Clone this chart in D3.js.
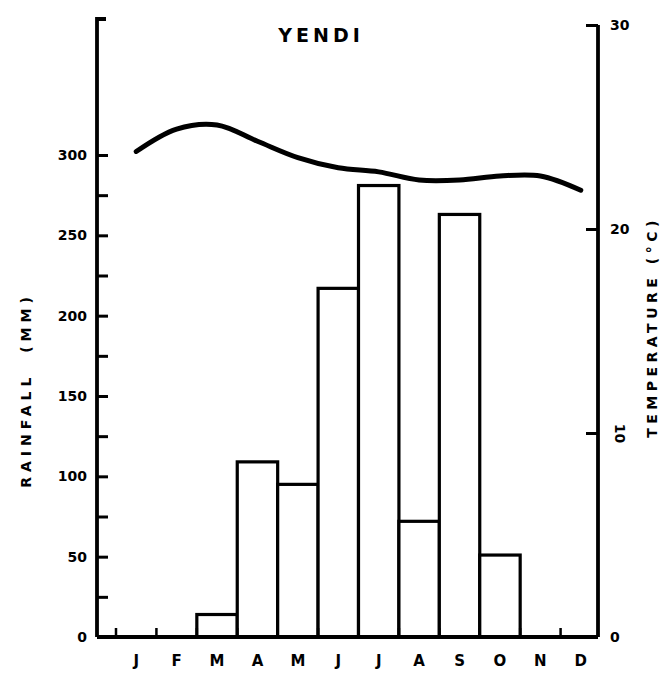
<!DOCTYPE html>
<html>
<head>
<meta charset="utf-8">
<script src="https://cdn.jsdelivr.net/npm/d3@7"></script>
<style>
  html, body { margin: 0; padding: 0; background: #fff; }
  svg { display: block; }
  text { font-family: "DejaVu Sans", sans-serif; font-weight: bold; fill: #000; }
</style>
</head>
<body>
<svg id="chart" width="671" height="674"></svg>
<script>
// ---- data ----
const title = "YENDI";
const months = ["J","F","M","A","M","J","J","A","S","O","N","D"];
const rainfall = [0, 0, 14, 109, 95, 217, 281, 72, 263, 51, 0, 0];          // mm
const temperature = [23.8, 24.9, 25.1, 24.3, 23.5, 23.0, 22.8, 22.4, 22.4, 22.6, 22.6, 21.9]; // °C
const rainTicks = [0,25,50,75,100,125,150,175,200,225,250,275,300];
const rainLabels = [0,50,100,150,200,250,300];
const tempTicks = [0,10,20,30];
const leftTitle = "RAINFALL  (MM)";
const rightTitle = "TEMPERATURE (°C)";

// ---- layout ----
const svg = d3.select("#chart");
const xLeft = 97, xRight = 598, yBase = 637;

const keys = months.map((m, i) => i);
const x = d3.scaleBand().domain(keys).range([116, 601]).padding(0);
const yRain = d3.scaleLinear().domain([0, 300]).range([yBase, 155]);
const yTemp = d3.scaleLinear().domain([0, 30]).range([yBase, 25]);

const ink = "#000";

// bars
svg.append("g").selectAll("rect")
  .data(rainfall.map((v, i) => ({v, i})).filter(d => d.v > 0))
  .join("rect")
  .attr("x", d => x(d.i))
  .attr("y", d => yRain(d.v))
  .attr("width", x.bandwidth())
  .attr("height", d => yBase - yRain(d.v))
  .attr("fill", "#fff")
  .attr("stroke", ink)
  .attr("stroke-width", 3.2);

// left axis
const leftAxis = d3.axisLeft(yRain)
  .tickValues(rainTicks)
  .tickSizeInner(-11)
  .tickSizeOuter(0)
  .tickPadding(10)
  .tickFormat(d => rainLabels.includes(d) ? String(d) : "");
const gL = svg.append("g").attr("transform", `translate(${xLeft},0)`).call(leftAxis);
gL.select(".domain").remove();
gL.selectAll(".tick line").attr("stroke", ink).attr("stroke-width", 3);
gL.selectAll(".tick text").attr("font-size", 14).attr("font-family", "DejaVu Sans").attr("font-weight", "bold");
svg.append("path")
  .attr("d", `M${xLeft + 9},19 H${xLeft} V${yBase}`)
  .attr("fill", "none").attr("stroke", ink).attr("stroke-width", 3.8);

// right axis
const rightAxis = d3.axisRight(yTemp)
  .tickValues(tempTicks)
  .tickSizeInner(-12)
  .tickSizeOuter(0)
  .tickPadding(12)
  .tickFormat(d3.format("d"));
const gR = svg.append("g").attr("transform", `translate(${xRight},0)`).call(rightAxis);
gR.select(".domain").remove();
gR.selectAll(".tick line").attr("stroke", ink).attr("stroke-width", 3);
gR.selectAll(".tick text").attr("font-size", 14).attr("font-family", "DejaVu Sans").attr("font-weight", "bold");
gR.selectAll(".tick").filter(d => d === 10).select("text")
  .attr("text-anchor", "middle").attr("dy", null).attr("x", null)
  .attr("transform", "translate(21,0) rotate(90)").attr("dominant-baseline", "middle");
svg.append("path")
  .attr("d", `M${xRight},${yTemp(30)} V${yBase}`)
  .attr("fill", "none").attr("stroke", ink).attr("stroke-width", 3.8);

// baseline
svg.append("line")
  .attr("x1", xLeft).attr("x2", xRight)
  .attr("y1", yBase).attr("y2", yBase)
  .attr("stroke", ink).attr("stroke-width", 3.8);

// month boundary ticks
svg.append("g").selectAll("line")
  .data(keys)
  .join("line")
  .attr("x1", d => x(d)).attr("x2", d => x(d))
  .attr("y1", yBase).attr("y2", yBase - 9)
  .attr("stroke", ink).attr("stroke-width", 2.5);

// month labels
const xAxis = d3.axisBottom(x).tickSize(0).tickPadding(18).tickFormat(i => months[i]);
const gX = svg.append("g").attr("transform", `translate(0,${yBase})`).call(xAxis);
gX.select(".domain").remove();
gX.selectAll(".tick text").attr("font-size", 15).attr("font-family", "DejaVu Sans").attr("font-weight", "bold");

// temperature curve
const line = d3.line()
  .x((d, i) => x(i) + x.bandwidth() / 2)
  .y(d => yTemp(d))
  .curve(d3.curveCatmullRom.alpha(0.5));
svg.append("path")
  .datum(temperature)
  .attr("d", line)
  .attr("fill", "none")
  .attr("stroke", ink)
  .attr("stroke-width", 5)
  .attr("stroke-linecap", "round");

// title
svg.append("text")
  .attr("x", 321).attr("y", 42)
  .attr("text-anchor", "middle")
  .attr("font-size", 19)
  .attr("letter-spacing", 4)
  .text(title);

// axis titles
svg.append("text")
  .attr("transform", "translate(31,390) rotate(-90)")
  .attr("text-anchor", "middle")
  .attr("font-size", 14)
  .attr("letter-spacing", 5)
  .attr("xml:space", "preserve")
  .style("white-space", "pre")
  .text(leftTitle);

svg.append("text")
  .attr("transform", "translate(657,327) rotate(-90)")
  .attr("text-anchor", "middle")
  .attr("font-size", 14)
  .attr("letter-spacing", 4.5)
  .text(rightTitle);
</script>
</body>
</html>
